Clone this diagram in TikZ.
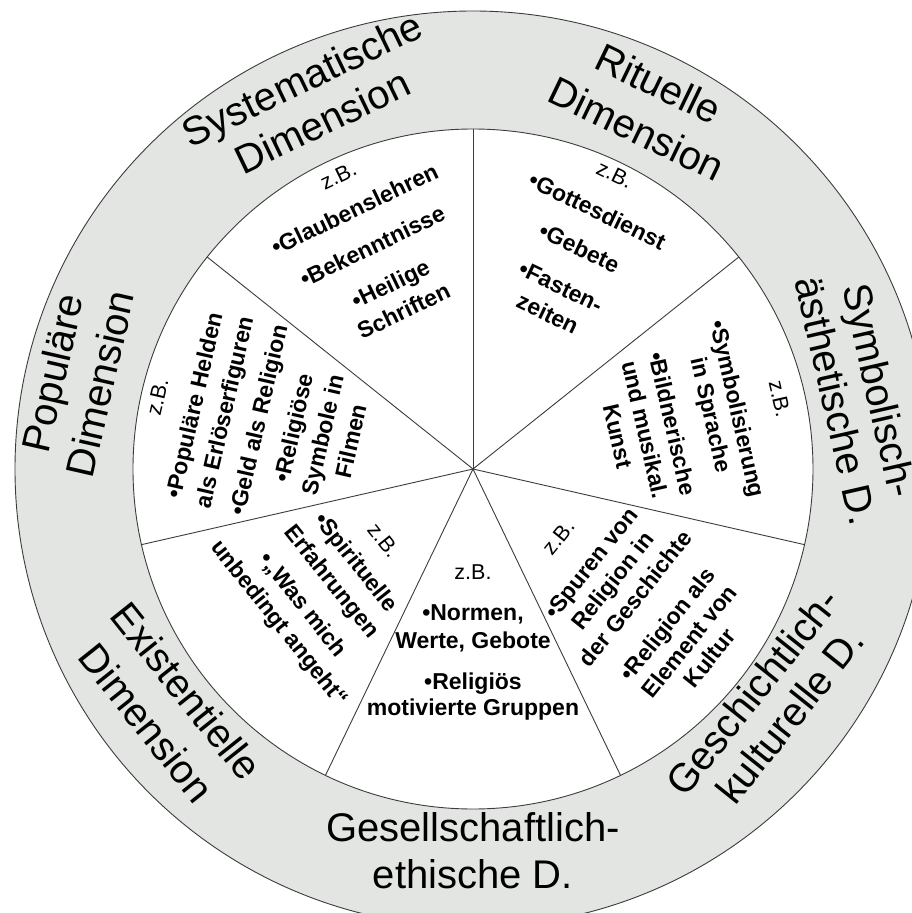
\documentclass[tikz,border=0pt]{standalone}
\usepackage{fontspec}
\setmainfont{Liberation Sans}
\usetikzlibrary{calc}
\definecolor{ringgray}{RGB}{227,229,227}
\definecolor{linegray}{RGB}{60,60,60}
\begin{document}
\begin{tikzpicture}[x=1pt,y=1pt,
  ringlbl/.style={font=\fontsize{40}{48}\selectfont, anchor=mid, inner sep=0pt},
  itm/.style={font=\fontsize{23}{27}\selectfont\bfseries, anchor=mid, inner sep=0pt},
  zb/.style={font=\fontsize{21.5}{25}\selectfont, anchor=mid, inner sep=0pt},
  spoke/.style={draw=linegray, line width=0.9pt}]
\useasboundingbox (-473,-444) rectangle (439,469);
\fill[white] (-473,-444) rectangle (439,469);
\coordinate (O) at (0,0);
\filldraw[fill=ringgray, draw=linegray, line width=0.9pt] (O) circle[radius=458pt];
\filldraw[fill=white, draw=linegray, line width=0.9pt] (O) circle[radius=340pt];
\foreach \k in {0,...,6} {
  \coordinate (s\k) at ({90-\k*360/7}:340);
  \draw[spoke] (O) -- (s\k);
}
% ---- ring labels
\node[ringlbl, rotate=25.71] (sysA) at ($(115.71:414)+(25.71:15)$) {Systematische};
\node[ringlbl, rotate=25.71] (sysB) at ($(115.71:367)+(25.71:15)$) {Dimension};
\node[ringlbl, rotate=-25.71] (ritA) at (64.29:416) {Rituelle};
\node[ringlbl, rotate=-25.71] (ritB) at (64.29:366) {Dimension};
\node[ringlbl, rotate=-77.14] (symA) at ($(12.86:403)+(-77.14:14)$) {Symbolisch-};
\node[ringlbl, rotate=-77.14] (symB) at ($(12.86:358)+(-77.14:14)$) {ästhetische D.};
\node[ringlbl, rotate=51.43] (gesA) at (-38.57:369) {Geschichtlich-};
\node[ringlbl, rotate=51.43] (gesB) at ($(-38.57:413)+(51.43:5)$) {kulturelle D.};
\node[ringlbl] (getA) at (-90:370) {Gesellschaftlich-};
\node[ringlbl] (getB) at (-90:417) {ethische D.};
\node[ringlbl, rotate=-51.43] (exA) at ($(-141.43:374)+(-51.43:-5)$) {Existentielle};
\node[ringlbl, rotate=-51.43] (exB) at ($(-141.43:425)+(-51.43:-5)$) {Dimension};
\node[ringlbl, rotate=77.14] (popA) at (167.14:420) {Populäre};
\node[ringlbl, rotate=77.14] (popB) at (167.14:371) {Dimension};
% ---- Systematische
\node[zb, rotate=25.71] (sys0) at ($(115.71:318)+(25.71:6)$) {z.B.};
\node[itm, rotate=25.71] (sys1) at ($(115.71:280)+(25.71:6)$) {•Glaubenslehren};
\node[itm, rotate=25.71] (sys2) at ($(115.71:239)+(25.71:6)$) {•Bekenntnisse};
\node[itm, rotate=25.71] (sys3) at ($(115.71:197)+(25.71:6)$) {•Heilige};
\node[itm, rotate=25.71] (sys4) at ($(115.71:167)+(25.71:6)$) {Schriften};
% ---- Rituelle
\node[zb, rotate=-25.71] (rit0) at (64.29:322) {z.B.};
\node[itm, rotate=-25.71] (rit1) at (64.29:281) {•Gottesdienst};
\node[itm, rotate=-25.71] (rit2) at (64.29:240) {•Gebete};
\node[itm, rotate=-25.71] (rit3) at (64.29:197) {•Fasten-};
\node[itm, rotate=-25.71] (rit4) at (64.29:167) {zeiten};
% ---- Symbolisch
\node[zb, rotate=-77.14] (sym0) at (12.86:310) {z.B.};
\node[itm, rotate=-77.14] (sym1) at (12.86:266) {•Symbolisierung};
\node[itm, rotate=-77.14] (sym2) at (12.86:239) {in Sprache};
\node[itm, rotate=-77.14] (sym3) at (12.86:199) {•Bildnerische};
\node[itm, rotate=-77.14] (sym4) at (12.86:171) {und musikal.};
\node[itm, rotate=-77.14] (sym5) at (12.86:143) {Kunst};
% ---- Geschichtlich
\node[zb, rotate=51.43] (gk0) at (-38.57:114) {z.B.};
\node[itm, rotate=51.43] (gk1) at (-38.57:156) {•Spuren von};
\node[itm, rotate=51.43] (gk2) at (-38.57:184) {Religion in};
\node[itm, rotate=51.43] (gk3) at (-38.57:213) {der Geschichte};
\node[itm, rotate=51.43] (gk4) at (-38.57:254) {•Religion als};
\node[itm, rotate=51.43] (gk5) at (-38.57:282) {Element von};
\node[itm, rotate=51.43] (gk6) at (-38.57:308) {Kultur};
% ---- Gesellschaftlich
\node[zb] (ge0) at (-90:108) {z.B.};
\node[itm] (ge1) at (-90:149) {•Normen,};
\node[itm] (ge2) at (-90:177) {Werte, Gebote};
\node[itm] (ge3) at (-90:218) {•Religiös};
\node[itm] (ge4) at (-90:244) {motivierte Gruppen};
% ---- Existentielle
\node[zb, rotate=-51.43] (ex0) at (-141.43:119) {z.B.};
\node[itm, rotate=-51.43] (ex1) at (-141.43:154) {•Spirituelle};
\node[itm, rotate=-51.43] (ex2) at (-141.43:185) {Erfahrungen};
\node[itm, rotate=-51.43] (ex3) at (-141.43:222) {•„Was mich};
\node[itm, rotate=-51.43] (ex4) at (-141.43:252) {unbedingt angeht“};
% ---- Populäre
\node[zb, rotate=77.14] (po0) at (167.14:319) {z.B.};
\node[itm, rotate=77.14] (po1) at (167.14:281) {•Populäre Helden};
\node[itm, rotate=77.14] (po2) at (167.14:250) {als Erlöserfiguren};
\node[itm, rotate=77.14] (po3) at (167.14:215) {•Geld als Religion};
\node[itm, rotate=77.14] (po4) at (167.14:179) {•Religiöse};
\node[itm, rotate=77.14] (po5) at (167.14:149) {Symbole in};
\node[itm, rotate=77.14] (po6) at (167.14:120) {Filmen};
\end{tikzpicture}
\end{document}
